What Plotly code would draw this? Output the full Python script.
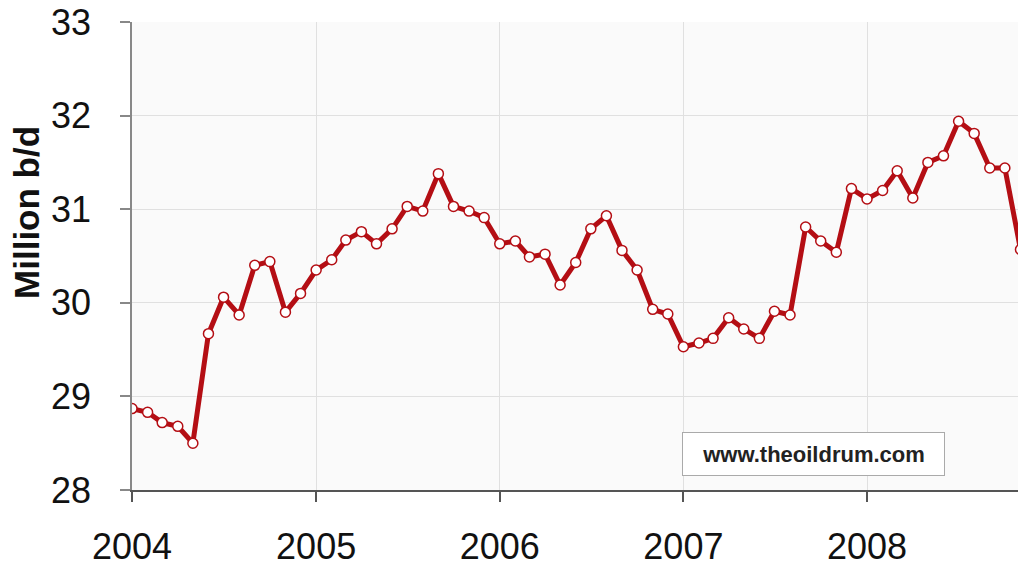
import plotly.graph_objects as go
import pandas as pd

months = pd.date_range("2004-01-01", "2008-12-01", freq="MS")
production = [
    28.87, 28.83, 28.72, 28.68, 28.50, 29.67, 30.06, 29.87, 30.40, 30.44, 29.90, 30.10,
    30.35, 30.46, 30.67, 30.76, 30.63, 30.79, 31.03, 30.98, 31.38, 31.03, 30.98, 30.91,
    30.63, 30.66, 30.49, 30.52, 30.19, 30.43, 30.79, 30.93, 30.56, 30.35, 29.93, 29.88,
    29.53, 29.57, 29.62, 29.84, 29.72, 29.62, 29.91, 29.87, 30.81, 30.66, 30.54, 31.22,
    31.11, 31.20, 31.41, 31.12, 31.50, 31.57, 31.94, 31.81, 31.44, 31.44, 30.57, 29.55,
]
year_ticks = ["2004-01-01", "2005-01-01", "2006-01-01", "2007-01-01", "2008-01-01"]
year_labels = ["2004", "2005", "2006", "2007", "2008"]
y_ticks = [28, 29, 30, 31, 32, 33]

fig = go.Figure()
fig.add_trace(go.Scatter(
    x=months, y=production, mode="lines+markers",
    line=dict(color="#b40e14", width=5),
    marker=dict(size=10, color="white", line=dict(color="#b40e14", width=1.5)),
    cliponaxis=True, showlegend=False,
))

fig.update_layout(
    width=1018, height=558,
    margin=dict(l=124, r=0, t=14, b=76),
    paper_bgcolor="white", plot_bgcolor="#fafafa",
    font=dict(family="Liberation Sans, Arial", color="#111111"),
    xaxis=dict(
        type="date", range=["2004-01-01", "2008-11-12"],
        tickvals=year_ticks, ticktext=year_labels,
        tickfont=dict(size=36, color="#111111"),
        ticklabelstandoff=14, automargin=False, ticklabeloverflow="allow",
        showgrid=True, gridcolor="#e0e0e0", gridwidth=1,
        showline=True, linecolor="#555555", linewidth=1.5,
        ticks="outside", ticklen=10, tickcolor="#555555", tickwidth=1.5,
        zeroline=False,
    ),
    yaxis=dict(
        range=[28, 33], tickvals=y_ticks,
        tickfont=dict(size=36, color="#111111"),
        ticklabelstandoff=22, automargin=False, ticklabeloverflow="allow",
        showgrid=True, gridcolor="#e0e0e0", gridwidth=1,
        showline=True, linecolor="#888888", linewidth=1.5,
        ticks="outside", ticklen=10, tickcolor="#888888", tickwidth=1.5,
        zeroline=False,
    ),
)

fig.add_annotation(
    xref="paper", yref="paper", x=(19 - 124) / 894, y=0.592,
    xanchor="center", yanchor="middle", textangle=-90,
    text="<b>Million b/d</b>", showarrow=False,
    font=dict(size=35, color="#111111", family="Liberation Sans, Arial"),
)

fig.add_annotation(
    xref="paper", yref="paper", x=0.615, y=0.077, xanchor="left", yanchor="middle",
    text="<b>www.theoildrum.com</b>", showarrow=False,
    width=245, height=26, align="center",
    font=dict(size=22, color="#222222", family="Liberation Sans, Arial"),
    bgcolor="white", bordercolor="#aaaaaa", borderwidth=1, borderpad=8,
)

fig.write_html("out.html")
